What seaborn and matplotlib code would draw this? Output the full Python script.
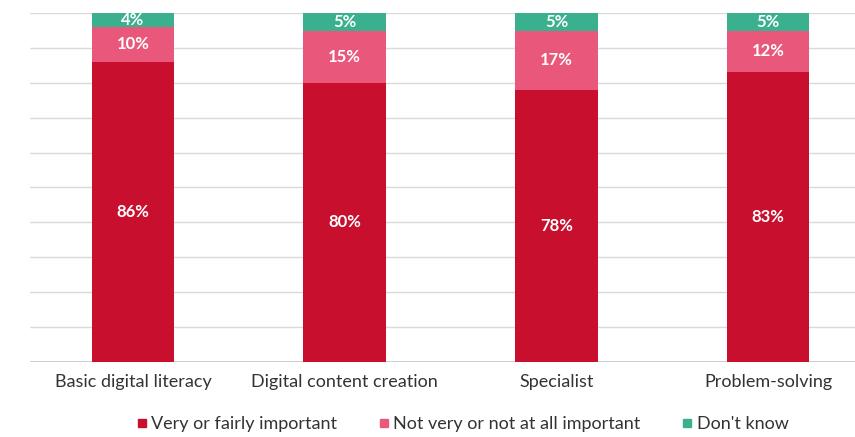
import matplotlib
matplotlib.use("Agg")
import matplotlib.pyplot as plt
from matplotlib.lines import Line2D
import pandas as pd
import seaborn as sns

# chart data
categories = ["Basic digital literacy", "Digital content creation", "Specialist", "Problem-solving"]
important = [86, 80, 78, 83]
not_important = [10, 15, 17, 12]
dont_know = [4, 5, 5, 5]
series_names = ["Very or fairly important", "Not very or not at all important", "Don't know"]

colors = ["#C8102E", "#E9587A", "#3AB08E"]


def main() -> None:
    sns.set_theme(style="white")
    plt.rcParams["font.family"] = ["Lato", "DejaVu Sans"]

    df = pd.DataFrame({
        "category": categories,
        "important": important,
        "not_important": not_important,
        "dont_know": dont_know,
    })
    # cumulative tops of each segment
    df["top_red"] = df["important"]
    df["top_pink"] = df["important"] + df["not_important"]
    df["top_green"] = df["top_pink"] + df["dont_know"]

    fig, ax = plt.subplots(figsize=(8.55, 4.37), dpi=100)
    fig.subplots_adjust(left=0.035, right=1.0, top=0.970, bottom=0.172)

    # draw tallest first so shorter segments sit on top
    for col, color in zip(["top_green", "top_pink", "top_red"], colors[::-1]):
        sns.barplot(data=df, x="category", y=col, color=color, width=0.39,
                    saturation=1, linewidth=0, ax=ax, zorder=3)

    # percentage labels in the middle of each segment
    for i, row in df.iterrows():
        segs = [(0, row["important"]),
                (row["top_red"], row["not_important"]),
                (row["top_pink"], row["dont_know"])]
        for base, val in segs:
            ax.text(i, base + val / 2, f"{val}%", ha="center", va="center",
                    color="white", fontsize=12, fontweight="bold", zorder=4)

    ax.set_ylim(0, 100)
    ax.set_xlim(-0.487, 3.41)
    ax.set_yticks(range(0, 101, 10))
    ax.yaxis.grid(True, color="#DADADA", linewidth=1)
    ax.set_axisbelow(True)
    ax.set_yticklabels([])
    ax.tick_params(axis="y", length=0)
    ax.tick_params(axis="x", length=0, pad=9, labelsize=13, labelcolor="#333333")
    ax.set_xlabel("")
    ax.set_ylabel("")
    for s in ax.spines.values():
        s.set_visible(False)
    ax.axhline(0, color="#C8C8C8", linewidth=1.2, zorder=2)

    handles = [Line2D([], [], marker="s", linestyle="", markersize=6,
                      markerfacecolor=c, markeredgecolor=c) for c in colors]
    fig.legend(handles, series_names, loc="center", bbox_to_anchor=(0.536, 0.03),
               ncol=3, frameon=False, fontsize=13, handletextpad=-0.2,
               handlelength=1.5, columnspacing=1.8, labelcolor="#333333")

    fig.savefig("out.png", dpi=100)
    plt.close(fig)


if __name__ == "__main__":
    main()
